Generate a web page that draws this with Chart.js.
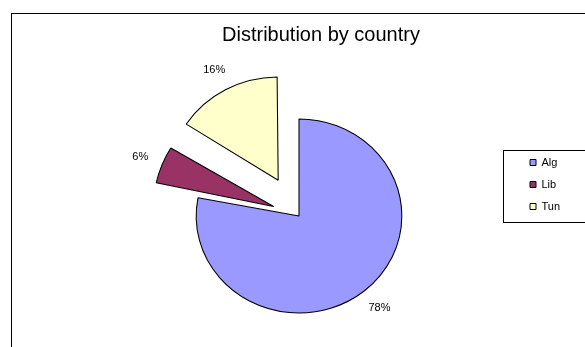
<!DOCTYPE html>
<html><head><meta charset="utf-8">
<script src="https://cdn.jsdelivr.net/npm/chart.js@4/dist/chart.umd.min.js"></script>
<style>html,body{margin:0;padding:0;background:#fff;} canvas{display:block;}</style>
</head><body>
<canvas id="c" width="585" height="347"></canvas>
<script>
// ---- data ----
const categories = ['Alg', 'Lib', 'Tun'];
const shares = [78, 6, 16];
const chartTitle = 'Distribution by country';

// ---- style ----
const sliceColors = ['#9999FF', '#993366', '#FFFFCC'];
const sliceExplode = [0, 103, 163];
const FONT = "'Liberation Sans', Arial, sans-serif";
const STRETCH_X = 1.06;

const framePlugin = {
  id: 'frames',
  beforeDraw(chart) {
    const ctx = chart.ctx;
    ctx.save();
    ctx.fillStyle = '#fff';
    ctx.fillRect(0, 0, chart.width, chart.height);
    ctx.restore();
  },
  afterDraw(chart) {
    const ctx = chart.ctx;
    ctx.save();
    ctx.strokeStyle = '#000';
    ctx.lineWidth = 1;
    ctx.strokeRect(11.5, 13.5, chart.width + 20, chart.height + 20);
    const lg = chart.legend;
    const hb = lg.legendHitBoxes;
    const top = Math.round(hb[0].top - 7.5) + 0.5;
    const last = hb[hb.length - 1];
    const bottom = Math.round(last.top + last.height + 9.5) + 0.5;
    const left = Math.round(lg.left - 16.5) + 0.5;
    ctx.strokeRect(left, top, chart.width - left + 20, bottom - top);
    ctx.restore();
  }
};

const stretchPlugin = {
  id: 'stretch',
  beforeDatasetsDraw(chart) {
    const arc = chart.getDatasetMeta(0).data[0];
    const ctx = chart.ctx;
    ctx.save();
    ctx.translate(arc.x, arc.y);
    ctx.scale(STRETCH_X, 1);
    ctx.translate(-arc.x, -arc.y);
  },
  afterDatasetsDraw(chart) {
    chart.ctx.restore();
  }
};

const labelPlugin = {
  id: 'sliceLabels',
  afterDraw(chart) {
    const ctx = chart.ctx;
    const meta = chart.getDatasetMeta(0);
    const vals = chart.data.datasets[0].data;
    const total = vals.reduce((a, b) => a + b, 0);
    ctx.save();
    ctx.font = '11px ' + FONT;
    ctx.fillStyle = '#000';
    ctx.textAlign = 'center';
    ctx.textBaseline = 'middle';
    meta.data.forEach((arc, i) => {
      const p = arc.getProps(['x', 'y', 'startAngle', 'endAngle', 'outerRadius', 'circumference'], true);
      const mid = (p.startAngle + p.endAngle) / 2;
      const off = (arc.options.offset || 0) / 4;
      const fix = 1 - Math.sin(Math.min(Math.PI, p.circumference));
      const shift = off * (1 + fix);
      const d = shift + p.outerRadius + 22;
      const px = p.x + STRETCH_X * Math.cos(mid) * d;
      const py = p.y + Math.sin(mid) * d;
      ctx.fillText(Math.round(vals[i] / total * 100) + '%', px, py);
    });
    ctx.restore();
  }
};

new Chart(document.getElementById('c'), {
  type: 'pie',
  data: {
    labels: categories,
    datasets: [{
      data: shares,
      backgroundColor: sliceColors,
      borderColor: '#000',
      borderWidth: 1,
      offset: sliceExplode,
      hoverOffset: sliceExplode,
      radius: 97,
      cutout: '0%',
      clip: false
    }]
  },
  options: {
    responsive: false,
    animation: false,
    events: [],
    layout: { padding: { left: 79, right: 22, top: 13, bottom: 61 } },
    plugins: {
      title: {
        display: true, text: chartTitle, color: '#000',
        font: { family: FONT, size: 20, weight: 'normal', lineHeight: 1.2 },
        padding: { top: 10.8, bottom: 98.2 }
      },
      legend: {
        position: 'right', align: 'start', fullSize: false, maxWidth: 44,
        labels: { boxWidth: 6, boxHeight: 6, padding: 11, color: '#000', font: { family: FONT, size: 11 } }
      },
      tooltip: { enabled: false }
    }
  },
  plugins: [framePlugin, stretchPlugin, labelPlugin]
});
</script>
</body></html>
